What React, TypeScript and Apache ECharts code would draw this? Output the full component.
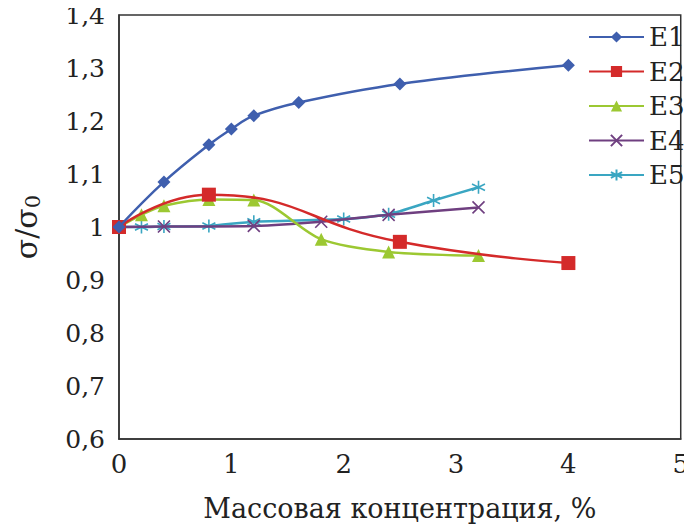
import React, { useEffect, useRef } from "react";
import * as echarts from "echarts";

const e1X = [0, 0.4, 0.8, 1.0, 1.2, 1.6, 2.5, 4.0];
const e1Y = [1.0, 1.085, 1.155, 1.185, 1.21, 1.235, 1.27, 1.305];
const e2X = [0, 0.8, 2.5, 4.0];
const e2Y = [1.0, 1.061, 0.972, 0.932];
const e3X = [0, 0.2, 0.4, 0.8, 1.2, 1.8, 2.4, 3.2];
const e3Y = [1.0, 1.023, 1.04, 1.052, 1.051, 0.977, 0.953, 0.946];
const e4X = [0, 0.4, 1.2, 1.8, 2.4, 3.2];
const e4Y = [1.0, 1.001, 1.002, 1.01, 1.023, 1.037];
const e5X = [0, 0.2, 0.4, 0.8, 1.2, 2.0, 2.4, 2.8, 3.2];
const e5Y = [1.0, 1.0, 1.001, 1.002, 1.01, 1.015, 1.024, 1.05, 1.075];

const seriesNames = ["E1", "E2", "E3", "E4", "E5"];
const xTicks = [0, 1, 2, 3, 4, 5];
const yTickLabels = ["0,6", "0,7", "0,8", "0,9", "1", "1,1", "1,2", "1,3", "1,4"];

const xName = "Массовая концентрация, %";

const FONT = "DejaVu Serif";

const zip = (xs: number[], ys: number[]) => xs.map((x, i) => [x, ys[i]]);

const X_SYMBOL = "path://M0,0L10,10M10,0L0,10";
const STAR_SYMBOL = "path://M5,0L5,10M0.7,2.5L9.3,7.5M9.3,2.5L0.7,7.5";

export default function App() {
  const ref = useRef<HTMLDivElement>(null);
  useEffect(() => {
    if (!ref.current) return;
    const chart = echarts.init(ref.current, null, { renderer: "svg" });
    const mk = (
      i: number,
      xs: number[],
      ys: number[],
      color: string,
      symbol: string,
      size: number,
      smooth: boolean | number,
      strokeSymbol = false
    ) => ({
      name: seriesNames[i],
      type: "line",
      data: zip(xs, ys),
      smooth,
      symbol,
      symbolSize: size,
      showSymbol: true,
      lineStyle: { color, width: 2.5 },
      itemStyle: strokeSymbol
        ? { color, borderColor: color, borderWidth: 1.6 }
        : { color, borderWidth: 0 },
      z: 10 - i,
    });
    chart.setOption({
      animation: false,
      backgroundColor: "#ffffff",
      textStyle: { fontFamily: FONT },
      grid: {
        left: 119,
        right: 8,
        top: 15,
        bottom: 90,
        show: true,
        borderColor: "#333",
        borderWidth: 1.5,
        backgroundColor: "transparent",
      },
      legend: {
        orient: "vertical",
        left: 583,
        top: 17,
        itemWidth: 55,
        itemHeight: 14,
        itemGap: 4.5,
        data: seriesNames,
        textStyle: {
          fontFamily: FONT,
          fontSize: 26,
          color: "#222",
          lineHeight: 30,
        },
      },
      xAxis: {
        type: "value",
        min: 0,
        max: 5,
        interval: 1,
        name: xName,
        nameLocation: "middle",
        nameGap: 56,
        nameTextStyle: { fontFamily: FONT, fontSize: 27, color: "#222" },
        axisLine: { show: true, lineStyle: { color: "#333", width: 1.5 } },
        axisTick: { show: false },
        splitLine: { show: false },
        axisLabel: {
          fontFamily: FONT,
          fontSize: 26,
          color: "#222",
          margin: 12,
          formatter: (v: number) => String(xTicks.find((t) => Math.abs(t - v) < 1e-6) ?? v),
        },
      },
      yAxis: {
        type: "value",
        min: 0.6,
        max: 1.4,
        interval: 0.1,
        name: "{a|σ/σ}{b|0}",
        nameLocation: "middle",
        nameGap: 76,
        nameRotate: 90,
        nameTextStyle: {
          fontFamily: FONT,
          color: "#222",
          rich: {
            a: { fontFamily: FONT, fontSize: 30, color: "#222" },
            b: { fontFamily: FONT, fontSize: 21, color: "#222", padding: [13, 0, 0, 0] },
          },
        },
        axisLine: { show: true, lineStyle: { color: "#333", width: 1.5 } },
        axisTick: { show: false },
        splitLine: { show: false },
        axisLabel: {
          fontFamily: FONT,
          fontSize: 25,
          color: "#222",
          margin: 14,
          formatter: (v: number) => yTickLabels[Math.round((v - 0.6) * 10)] ?? "",
        },
      },
      series: [
        mk(0, e1X, e1Y, "#3F5FAE", "diamond", 13, 0.4),
        mk(1, e2X, e2Y, "#D42A2A", "rect", 14, 0.5),
        mk(2, e3X, e3Y, "#9CC832", "triangle", 13, 0.3),
        mk(3, e4X, e4Y, "#6F3F80", X_SYMBOL, 12, 0.2, true),
        mk(4, e5X, e5Y, "#3AA6C2", STAR_SYMBOL, 13, 0.2, true),
      ],
    });
    return () => chart.dispose();
  }, []);
  return <div ref={ref} style={{ width: 692, height: 529, marginLeft: -8, marginTop: -8 }} />;
}
